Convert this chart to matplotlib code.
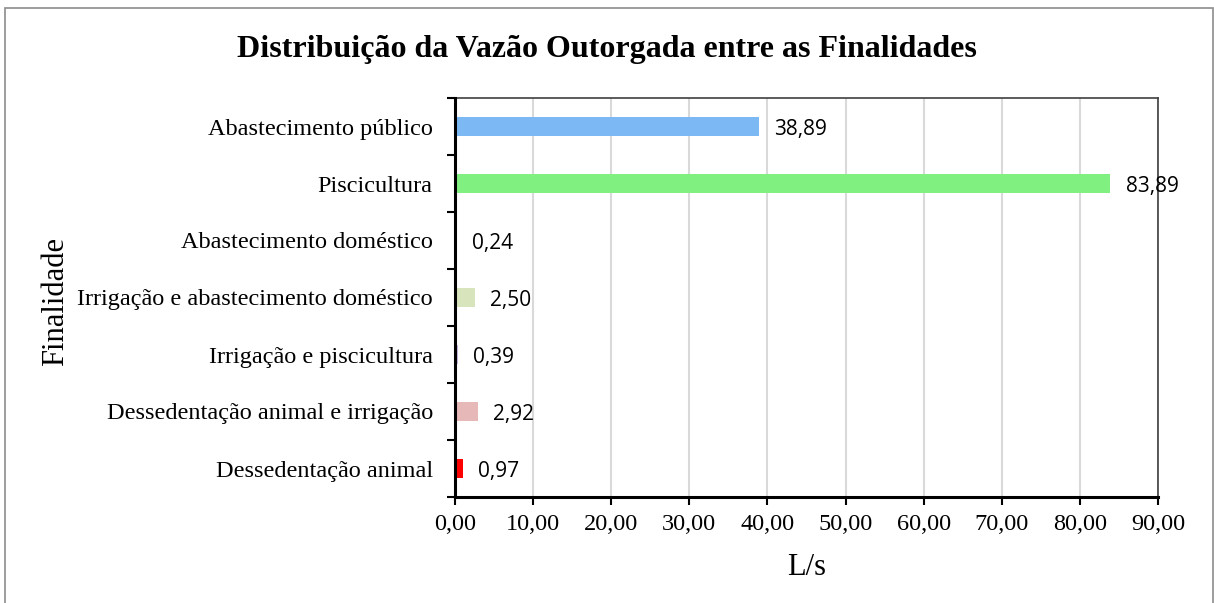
import numpy as np
import matplotlib.pyplot as plt
from matplotlib.patches import Rectangle

# data
categorias = ['Abastecimento público', 'Piscicultura', 'Abastecimento doméstico',
              'Irrigação e abastecimento doméstico', 'Irrigação e piscicultura',
              'Dessedentação animal e irrigação', 'Dessedentação animal']
vazao = [38.89, 83.89, 0.24, 2.50, 0.39, 2.92, 0.97]
cores = ['#7cb9f4', '#80f080', '#f5c08a', '#d8e4bc', '#c9b3dd', '#e6b8b7', '#ff0000']
xticks = np.arange(0, 91, 10)

serif = 'Liberation Serif'
sans = 'Open Sans'

fig = plt.figure(figsize=(12.14, 6.03), dpi=100)
fig.patches.append(Rectangle((5 / 1214, -0.01), 1208 / 1214, 1 - 8 / 603 + 0.01,
                             transform=fig.transFigure, fill=False,
                             edgecolor='#8c8c8c', linewidth=1.2))
ax = fig.add_axes([455 / 1214, 1 - 497 / 603, 703 / 1214, 399 / 603])

y = np.arange(len(categorias))[::-1]
ax.barh(y, vazao, height=0.32, color=cores, zorder=2)

for yi, v in zip(y, vazao):
    ax.annotate(f'{v:.2f}'.replace('.', ','), xy=(v, yi), xytext=(11, -2),
                textcoords='offset points', ha='left', va='center',
                fontsize=15, family=sans)

ax.set_xlim(0, 90)
ax.set_ylim(-0.5, len(categorias) - 0.5)
ax.set_xticks(xticks)
ax.set_xticklabels([f'{t:.2f}'.replace('.', ',') for t in xticks],
                   family=serif, fontsize=17.5)
ax.set_yticks(y)
ax.set_yticklabels(categorias, family=serif, fontsize=17.5)
ax.set_yticks(np.arange(-0.5, len(categorias), 1), minor=True)
ax.tick_params(axis='y', which='major', length=0, pad=16)
ax.tick_params(axis='y', which='minor', length=6, width=1.5, direction='out')
ax.tick_params(axis='x', length=6, width=1.5, direction='out', pad=6)

ax.grid(axis='x', color='#d9d9d9', linewidth=1.5, zorder=0)
ax.set_axisbelow(True)

for s in ['left', 'bottom']:
    ax.spines[s].set_linewidth(2.2)
    ax.spines[s].set_color('black')
    ax.spines[s].set_zorder(3)
for s in ['top', 'right']:
    ax.spines[s].set_linewidth(1.2)
    ax.spines[s].set_color('#404040')

ax.set_xlabel('L/s', family=serif, fontsize=22, labelpad=13)
ax.set_ylabel('Finalidade', family=serif, fontsize=22)
ax.yaxis.set_label_coords(70 / 1214, 0.5, transform=fig.transFigure)
fig.text(0.5, 1 - 49 / 603, 'Distribuição da Vazão Outorgada entre as Finalidades',
         ha='center', va='center', family=serif, fontsize=23, fontweight='bold')

fig.savefig('out.png', dpi=100)
